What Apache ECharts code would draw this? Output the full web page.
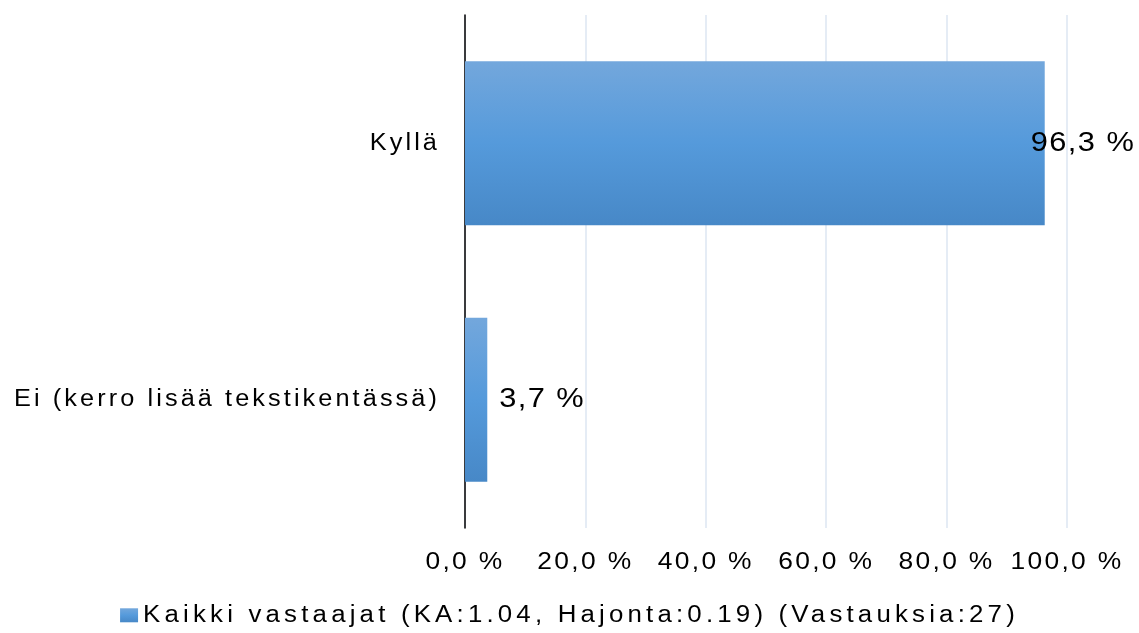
<!DOCTYPE html>
<html>
<head>
<meta charset="utf-8">
<script src="https://cdn.jsdelivr.net/npm/echarts@6/dist/echarts.min.js"></script>
<style>
html,body{margin:0;padding:0;background:#fff;}
#chart{width:1139px;height:633px;}
</style>
</head>
<body>
<div id="chart"></div>
<script>
const categories = ['Kyllä', 'Ei (kerro lisää tekstikentässä)'];
const values = [96.3, 3.7];
const xTicks = [0, 20, 40, 60, 80, 100];
const seriesName = 'Kaikki vastaajat (KA:1.04, Hajonta:0.19) (Vastauksia:27)';

const FONT = '"Liberation Sans", Arial, sans-serif';
// Reference text is slightly wide and letter-spaced: emulate with a horizontal
// stretch and canvas letterSpacing, applied both to measuring and drawing.
const STRETCH = 1.1;
const spacingBySize = { '23.5': 3.8, '23': 2.8, '24': 2.1, '28': 1.3 };
function spacingFor(font) {
  const m = /(\d+(?:\.\d+)?)px/.exec(font || '');
  if (!m) return 0;
  return spacingBySize[String(parseFloat(m[1]))] || 0;
}
const mctx = document.createElement('canvas').getContext('2d');
if (echarts.setPlatformAPI) {
  echarts.setPlatformAPI({
    measureText(text, font) {
      mctx.font = font;
      try { mctx.letterSpacing = spacingFor(font) + 'px'; } catch (e) {}
      const m = mctx.measureText(text);
      return {
        width: m.width * STRETCH,
        actualBoundingBoxAscent: m.actualBoundingBoxAscent,
        actualBoundingBoxDescent: m.actualBoundingBoxDescent
      };
    }
  });
}
const protoFill = CanvasRenderingContext2D.prototype.fillText;
CanvasRenderingContext2D.prototype.fillText = function (t, x, y) {
  try { this.letterSpacing = spacingFor(this.font) + 'px'; } catch (e) {}
  this.save();
  this.translate(x, y);
  this.scale(STRETCH, 1);
  const r = protoFill.call(this, t, 0, 0);
  this.restore();
  return r;
};

const dom = document.getElementById('chart');
const chart = echarts.init(dom, null, { renderer: 'canvas' });

const fmt = v => v.toFixed(1).replace('.', ',') + ' %';
const barGradient = new echarts.graphic.LinearGradient(0, 0, 0, 1, [
  { offset: 0, color: '#73A7DC' },
  { offset: 0.5, color: '#559ADB' },
  { offset: 1, color: '#4788C7' }
]);

chart.setOption({
  animation: false,
  backgroundColor: '#ffffff',
  grid: { left: 465, right: 72, top: 15, bottom: 105, outerBoundsMode: 'none', containLabel: false },
  legend: {
    show: true,
    left: 'center',
    top: 600,
    padding: 0,
    itemWidth: 18,
    itemHeight: 14,
    icon: 'rect',
    textStyle: { fontFamily: FONT, fontSize: 23.5, color: '#000', lineHeight: 24 },
    data: [seriesName]
  },
  xAxis: {
    type: 'value',
    min: xTicks[0],
    max: xTicks[xTicks.length - 1],
    interval: xTicks[1] - xTicks[0],
    axisLine: { show: false },
    axisTick: { show: false },
    splitLine: { show: true, lineStyle: { color: '#DCE6F2', width: 1.5 } },
    axisLabel: { fontFamily: FONT, fontSize: 24, color: '#000', margin: 20, formatter: fmt }
  },
  yAxis: {
    type: 'category',
    inverse: true,
    data: categories,
    axisLine: { show: true, lineStyle: { color: '#000', width: 1.5 } },
    axisTick: { show: false },
    axisLabel: { fontFamily: FONT, fontSize: 23, color: '#000', margin: 25 }
  },
  series: [{
    name: seriesName,
    type: 'bar',
    barWidth: 164,
    data: values.map((v, i) => i === 0 ? { value: v, label: { offset: [-26, 0] } } : v),
    itemStyle: { color: barGradient },
    label: {
      show: true,
      position: 'right',
      distance: 12,
      fontFamily: FONT,
      fontSize: 28,
      color: '#000',
      formatter: p => fmt(p.value)
    }
  }]
});
</script>
</body>
</html>
